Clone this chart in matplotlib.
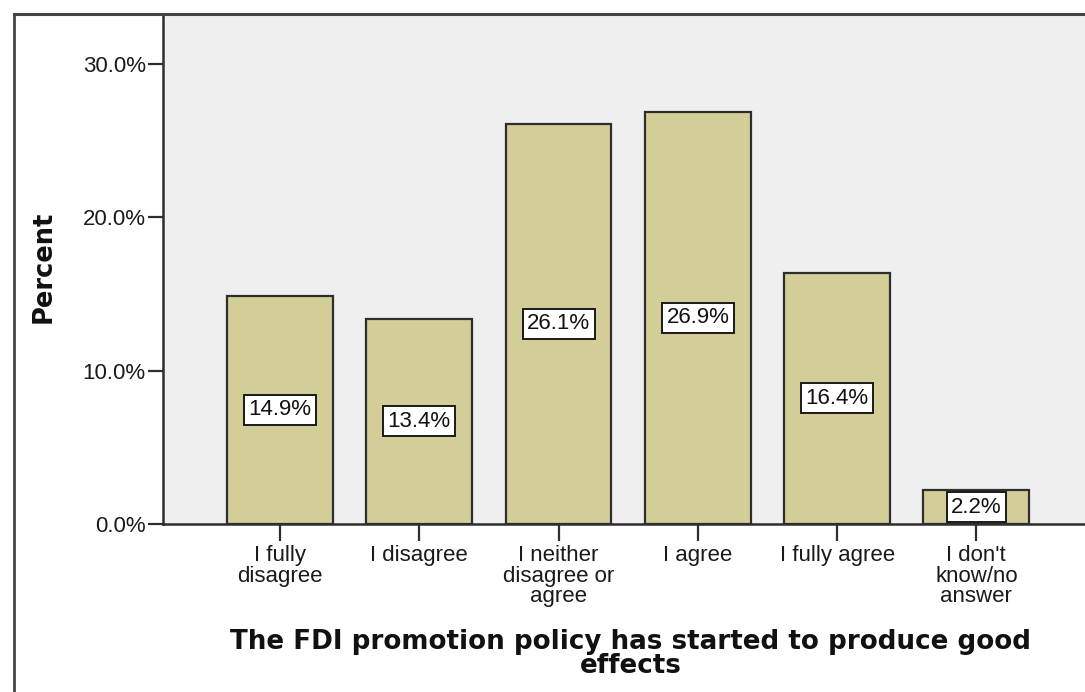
import matplotlib
matplotlib.use("Agg")
import matplotlib.pyplot as plt
from matplotlib.lines import Line2D

categories = [
    "I fully\ndisagree",
    "I disagree",
    "I neither\ndisagree or\nagree",
    "I agree",
    "I fully agree",
    "I don't\nknow/no\nanswer",
]
percents = [14.9, 13.4, 26.1, 26.9, 16.4, 2.2]
y_ticks = [0, 10, 20, 30]
y_tick_labels = ["0.0%", "10.0%", "20.0%", "30.0%"]
x_title = "The FDI promotion policy has started to produce good\neffects"
y_title = "Percent"

W, H = 1085, 692
fig = plt.figure(figsize=(W / 100, H / 100), dpi=100)
fig.patch.set_facecolor("white")

left_px, right_px, top_px, bottom_px = 163, 1085, 15, 524
ax = fig.add_axes([left_px / W, (H - bottom_px) / H,
                   (right_px - left_px) / W, (bottom_px - top_px) / H])
ax.set_facecolor("#EFEFEF")

x = list(range(len(categories)))
bars = ax.bar(x, percents, width=0.76, color="#D3CE98",
              edgecolor="#2E2E2E", linewidth=1.6, zorder=2)

for xi, v in zip(x, percents):
    ax.text(xi, v / 2, f"{v:.1f}%", ha="center", va="center",
            fontsize=16, family="Liberation Sans", color="#111111", zorder=4,
            bbox=dict(boxstyle="square,pad=0.2", facecolor="white",
                      edgecolor="#1A1A1A", linewidth=1.4))

ax.set_xlim(-0.84, 5.78)
ax.set_ylim(0, 33.2)
ax.set_yticks(y_ticks)
ax.set_yticklabels(y_tick_labels, family="Liberation Sans", fontsize=16,
                   color="#1A1A1A")
ax.set_xticks(x)
ax.set_xticklabels(categories, family="Liberation Sans", fontsize=16,
                   color="#1A1A1A", linespacing=0.98, va="top")
ax.tick_params(axis="y", length=11, width=1.6, pad=1.5, color="#2E2E2E")
ax.tick_params(axis="x", length=12, width=1.6, pad=3, color="#2E2E2E")

for side in ("right", "top"):
    ax.spines[side].set_visible(False)
for side in ("left", "bottom"):
    ax.spines[side].set_linewidth(1.8)
    ax.spines[side].set_color("#2E2E2E")

# outer chart frame
fig.add_artist(Line2D([14 / W, 14 / W], [0, 1 - 14 / H],
                      transform=fig.transFigure, color="#444444", linewidth=2))
fig.add_artist(Line2D([14 / W, 1], [1 - 14 / H, 1 - 14 / H],
                      transform=fig.transFigure, color="#444444", linewidth=2.2))

fig.text(44 / W, 1 - 267 / H, y_title, rotation=90, ha="center", va="center",
         fontsize=18.5, fontweight="bold", family="DejaVu Sans", color="#111111")
fig.text(631 / W, 1 - 654 / H, x_title, ha="center", va="center",
         fontsize=18.8, fontweight="bold", family="DejaVu Sans", color="#111111",
         linespacing=0.9)

fig.savefig("out.png", dpi=100, facecolor="white")
